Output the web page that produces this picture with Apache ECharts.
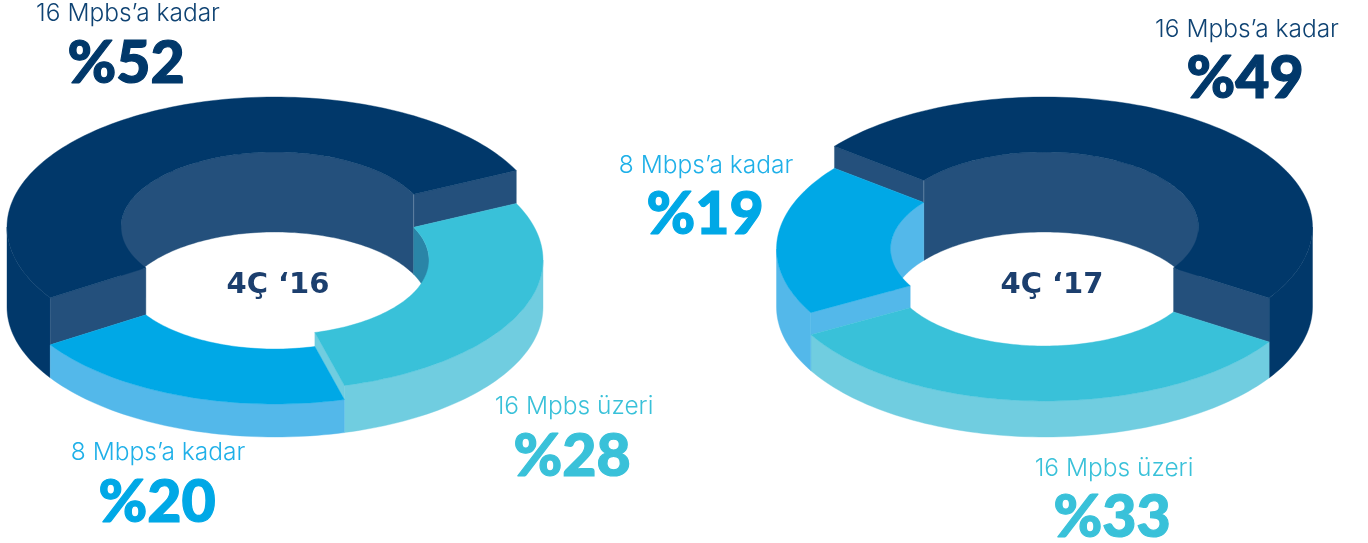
<!DOCTYPE html>
<html>
<head>
<meta charset="utf-8">
<style>html,body{margin:0;padding:0;background:#fff}#c{width:1368px;height:543px}</style>
<script src="https://cdn.jsdelivr.net/npm/echarts@6/dist/echarts.min.js"></script>
</head>
<body>
<div id="c"></div>
<script>
// ---- data ----
var sliceNames = ['16 Mpbs’a kadar', '16 Mpbs üzeri', '8 Mbps’a kadar'];
var shares16 = [52, 28, 20];
var shares17 = [49, 33, 19];
var periods = ['4Ç ‘16', '4Ç ‘17'];

// ---- styling ----
var topColors  = ['#01386a', '#39c1d9', '#00a8e6'];
var sideColors = ['#01386a', '#70cde0', '#53b8ea'];
var wallColors = ['#24507c', '#2a85a7', '#53b8ea'];
var cutColors  = ['#24507c', '#70cde0', '#53b8ea'];
var labelColors = ['#0f4373', '#39c1d9', '#1fb0e8'];
var numberColors = ['#01386a', '#39c1d9', '#00a8e6'];
var RX = 268, RY = 130, IRX = 154, IRY = 75, BASE_Y = 307;
var donuts = [
  { cx: 275,  shares: shares16, slabHeights: [80, 47, 33], startDeg: 237.0,
    labels: [[128, 14, 126, 64], [574, 407, 572, 457], [158, 453, 157, 503]], title: [278, 285] },
  { cx: 1044.5, shares: shares17, slabHeights: [80, 36, 58], startDeg: 308.4,
    labels: [[1247, 30, 1245, 79], [1114, 469, 1112, 518], [706, 166, 705, 215]], title: [1052, 285] }
];

function pt(cx, cy, rx, ry, deg) {
  var a = deg * Math.PI / 180;
  return [cx + rx * Math.sin(a), cy - ry * Math.cos(a)];
}
function arc(cx, cy, rx, ry, a0, a1) {
  var n = Math.max(2, Math.ceil(Math.abs(a1 - a0) / 1.5)), out = [];
  for (var i = 0; i <= n; i++) out.push(pt(cx, cy, rx, ry, a0 + (a1 - a0) * i / n));
  return out;
}
function poly(points, fill, z2) {
  return { type: 'polygon', z2: z2, shape: { points: points },
    style: { fill: fill, stroke: fill, lineWidth: 0.4 } };
}
// intersection of [a0,a1] with a periodic window
function clip(a0, a1, w0, w1) {
  var res = [];
  for (var k = -2; k <= 3; k++) {
    var s = Math.max(a0, w0 + 360 * k), e = Math.min(a1, w1 + 360 * k);
    if (e > s) res.push([s, e]);
  }
  return res;
}

function renderDonut(d) {
  var total = d.shares.reduce(function (a, b) { return a + b; }, 0);
  return function (params, api) {
    var i = params.dataIndex, n = d.shares.length;
    var sum = 0;
    for (var k = 0; k < i; k++) sum += d.shares[k];
    var a0 = d.startDeg + echarts.number.linearMap(sum, [0, total], [0, 360]);
    var a1 = a0 + echarts.number.linearMap(api.value(0), [0, total], [0, 360]);
    var h = d.slabHeights[i], cy = BASE_Y - h, cx = d.cx, kids = [];

    // far inner wall
    clip(a0, a1, -90, 90).forEach(function (r) {
      var pts = arc(cx, cy, IRX, IRY, r[0], r[1]).concat(arc(cx, BASE_Y, IRX, IRY, r[1], r[0]));
      kids.push(poly(pts, wallColors[i], 1));
    });
    // near outer wall
    clip(a0, a1, 90, 270).forEach(function (r) {
      var pts = arc(cx, cy, RX, RY, r[0], r[1]).concat(arc(cx, BASE_Y, RX, RY, r[1], r[0]));
      kids.push(poly(pts, sideColors[i], 2));
    });
    // radial cut faces towards lower neighbours
    [[a0, (i + n - 1) % n], [a1, (i + 1) % n]].forEach(function (e) {
      var lo = d.slabHeights[e[1]];
      if (lo >= h) return;
      var cy2 = BASE_Y - lo;
      kids.push(poly([
        pt(cx, cy, IRX, IRY, e[0]), pt(cx, cy, RX, RY, e[0]),
        pt(cx, cy2, RX, RY, e[0]), pt(cx, cy2, IRX, IRY, e[0])
      ], cutColors[i], 3));
    });
    // top face
    var ring = arc(cx, cy, RX, RY, a0, a1).concat(arc(cx, cy, IRX, IRY, a1, a0));
    kids.push(poly(ring, topColors[i], 4 + h));
    // faint highlight on the slab's vertical inner seam, as in the reference
    if (i === 0) {
      [a0, a1].forEach(function (e) {
        var p = pt(cx, cy, IRX, IRY, e), q = pt(cx, BASE_Y - d.slabHeights[e === a0 ? n - 1 : 1], IRX, IRY, e);
        if (Math.cos(e * Math.PI / 180) > 0) {
          kids.push({ type: 'line', z2: 200, shape: { x1: p[0], y1: p[1], x2: q[0], y2: q[1] },
            style: { stroke: '#6b8aa8', lineWidth: 0.8 } });
        }
      });
    }
    return { type: 'group', children: kids };
  };
}

var series = donuts.map(function (d) {
  return {
    type: 'custom', coordinateSystem: 'none', silent: true, animation: false,
    renderItem: renderDonut(d),
    data: d.shares.map(function (v) { return [v]; })
  };
});

var texts = [];
donuts.forEach(function (d, di) {
  d.labels.forEach(function (p, i) {
    texts.push({ type: 'text', x: p[0], y: p[1], silent: true, z: 10, style: {
      text: sliceNames[i], x: 0, y: 0, align: 'center', verticalAlign: 'middle',
      font: '300 24.5px Inter, "Noto Sans", sans-serif', fill: labelColors[i] } });
    texts.push({ type: 'text', x: p[2], y: p[3], silent: true, z: 10, style: {
      text: '%' + d.shares[i], x: 0, y: 0, align: 'center', verticalAlign: 'middle',
      font: '900 59px Lato, sans-serif', fill: numberColors[i],
      stroke: numberColors[i], lineWidth: 1.2 } });
  });
  texts.push({ type: 'text', x: d.title[0], y: d.title[1], silent: true, z: 10, style: {
    text: periods[di], x: 0, y: 0, align: 'center', verticalAlign: 'middle',
    font: '700 29px "DejaVu Sans", sans-serif', fill: '#1c3f6e' } });
});

var chart = echarts.init(document.getElementById('c'), null, { renderer: 'canvas' });
chart.setOption({ animation: false, backgroundColor: '#ffffff', series: series, graphic: texts });
</script>
</body>
</html>
